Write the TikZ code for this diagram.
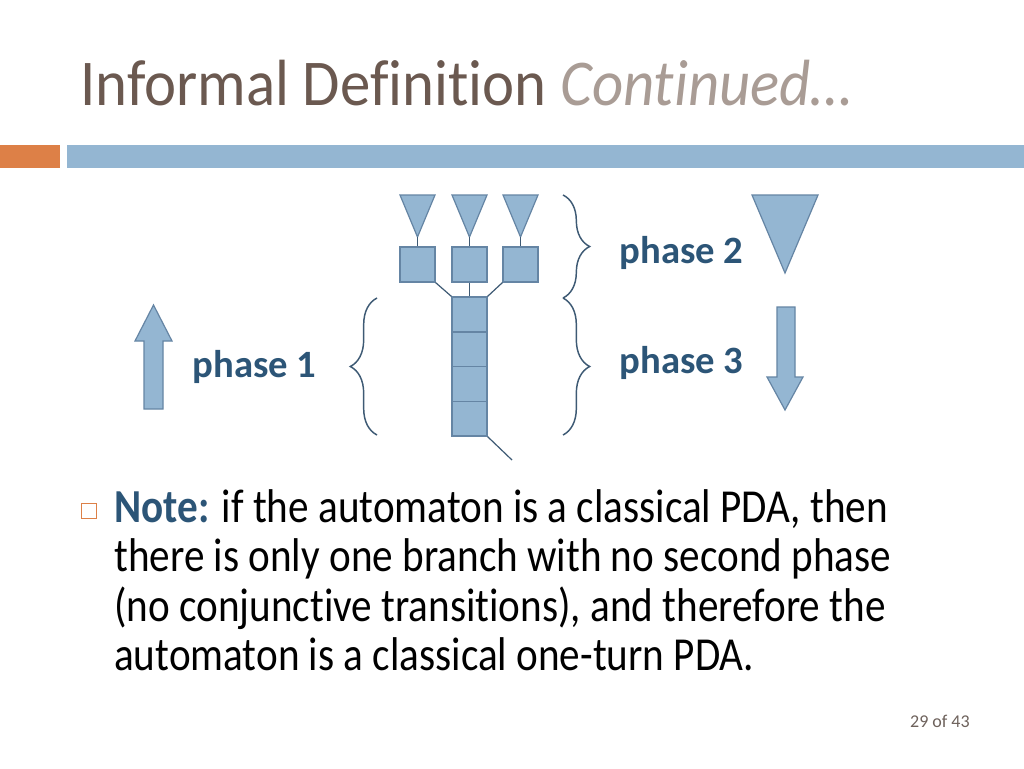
\documentclass[tikz,border=0pt]{standalone}
\usepackage{fontspec}
\setmainfont{Carlito}[Ligatures=NoCommon]
\newfontfamily\notefont{Carlito}[FakeStretch=0.87, Ligatures=NoCommon]
\newfontfamily\titlefont{Carlito}[FakeStretch=0.93, Ligatures=NoCommon]
\usepackage{tikz}
\usetikzlibrary{positioning, matrix, decorations.pathreplacing}
\definecolor{fillblue}{HTML}{94B6D2}
\definecolor{edgeblue}{HTML}{6585A4}
\definecolor{linkblue}{HTML}{3E5A74}
\definecolor{lblblue}{HTML}{2C5577}
\definecolor{titlebrown}{HTML}{6B5950}
\definecolor{contbrown}{HTML}{A99C95}
\definecolor{barorange}{HTML}{DD8047}
\definecolor{pagegray}{HTML}{6E625C}
\tikzset{
    cell/.style={rectangle, draw=edgeblue, fill=fillblue, line width=0.9pt, minimum size=26.25pt, inner sep=0pt},
    stack/.style={
        matrix of nodes,
        nodes in empty cells,
        nodes={cell, minimum height=25.7pt},
        row sep=-\pgflinewidth,
        inner sep=0pt
    },
    tri/.style={draw=edgeblue, fill=fillblue, line width=0.9pt, line join=miter},
    link/.style={draw=linkblue, line width=0.9pt},
    brc/.style={draw=linkblue, line width=1.1pt, decorate, decoration={brace, amplitude=20pt}},
    phaselbl/.style={anchor=base west, text=lblblue, font=\fontsize{29}{34}\selectfont\bfseries},
    bullet/.style={rectangle, draw=barorange, fill=white, line width=0.8pt, minimum width=11pt, minimum height=11.5pt, inner sep=0pt},
    bodytext/.style={align=left, inner sep=0pt, font=\notefont\fontsize{35.5}{37.2}\selectfont}
}
\begin{document}
\begin{tikzpicture}[x=0.75pt, y=-0.75pt]
        \useasboundingbox[fill=white] (0,0) rectangle (1024,768);

        % Title and bars
        \node[anchor=base west, inner sep=0pt, font=\titlefont\fontsize{49}{54}\selectfont] (title) at (80,105)
            {\textcolor{titlebrown}{Informal Definition} \textcolor{contbrown}{\itshape Continued\ldots}};
        \fill[barorange] (0,145) rectangle (60,168);
        \fill[fillblue] (67,145) rectangle (1024,168);

        % Branches
        \draw[tri] (400,195) -- (435,195) -- (417.5,237) -- cycle;
        \draw[tri] (452,195) -- (487,195) -- (469.5,237) -- cycle;
        \draw[tri] (503,195) -- (538,195) -- (520.5,237) -- cycle;
        \coordinate (t1) at (417.5,237);
        \coordinate (t2) at (469.5,237);
        \coordinate (t3) at (520.5,237);
        \node[cell] (b1) at (417.5,264.5) {};
        \node[cell] (b2) at (469.5,264.5) {};
        \node[cell] (b3) at (520.5,264.5) {};

        % Stack
        \matrix[stack] (stk) at (469.5,366.5) {\\ \\ \\ \\};
        \coordinate (tail) at (512,460);

        % Links
        \draw[link] (t1) -- (b1.north);
        \draw[link] (t2) -- (b2.north);
        \draw[link] (t3) -- (b3.north);
        \draw[link] (b1.south east) -- (stk-1-1.north west);
        \draw[link] (b2.south) -- (stk-1-1.north);
        \draw[link] (b3.south west) -- (stk-1-1.north east);
        \draw[link] (stk-4-1.south east) -- (tail);

        % Braces
        \coordinate (r2top) at (563,195);
        \coordinate (r2bot) at (563,298);
        \coordinate (r3bot) at (563,435);
        \coordinate (l1top) at (377,298);
        \coordinate (l1bot) at (377,435);
        \draw[brc] (r2top) -- (r2bot);
        \draw[brc] (r2bot) -- (r3bot);
        \draw[brc] (l1bot) -- (l1top);

        % Labels
        \node[phaselbl] (ph1) at (188,377) {phase 1};
        \node[phaselbl] (ph2) at (615,263) {phase 2};
        \node[phaselbl] (ph3) at (615,373) {phase 3};

        % Arrows and big triangle
        \draw[tri] (144,409) -- (144,341) -- (135,341) -- (153.5,305) -- (172,341) -- (163,341) -- (163,409) -- cycle;
        \draw[tri] (752,195) -- (818,195) -- (785,273) -- cycle;
        \draw[tri] (777,307) -- (795,307) -- (795,377) -- (803,377) -- (785,410) -- (767,377) -- (777,377) -- cycle;

        % Note
        \node[bullet] (bul) at (89,511) {};
        \node[bodytext, anchor=north west] (note) at (114,489) {\textcolor{lblblue}{\bfseries Note:} if the automaton is a classical PDA, then\\there is only one branch with no second phase\\(no conjunctive transitions), and therefore the\\automaton is a classical one-turn PDA.};

        \node[anchor=base east, inner sep=0pt, text=pagegray, font=\fontsize{13.5}{16}\selectfont] (page) at (970,727) {29 of 43};
    \end{tikzpicture}
\end{document}
